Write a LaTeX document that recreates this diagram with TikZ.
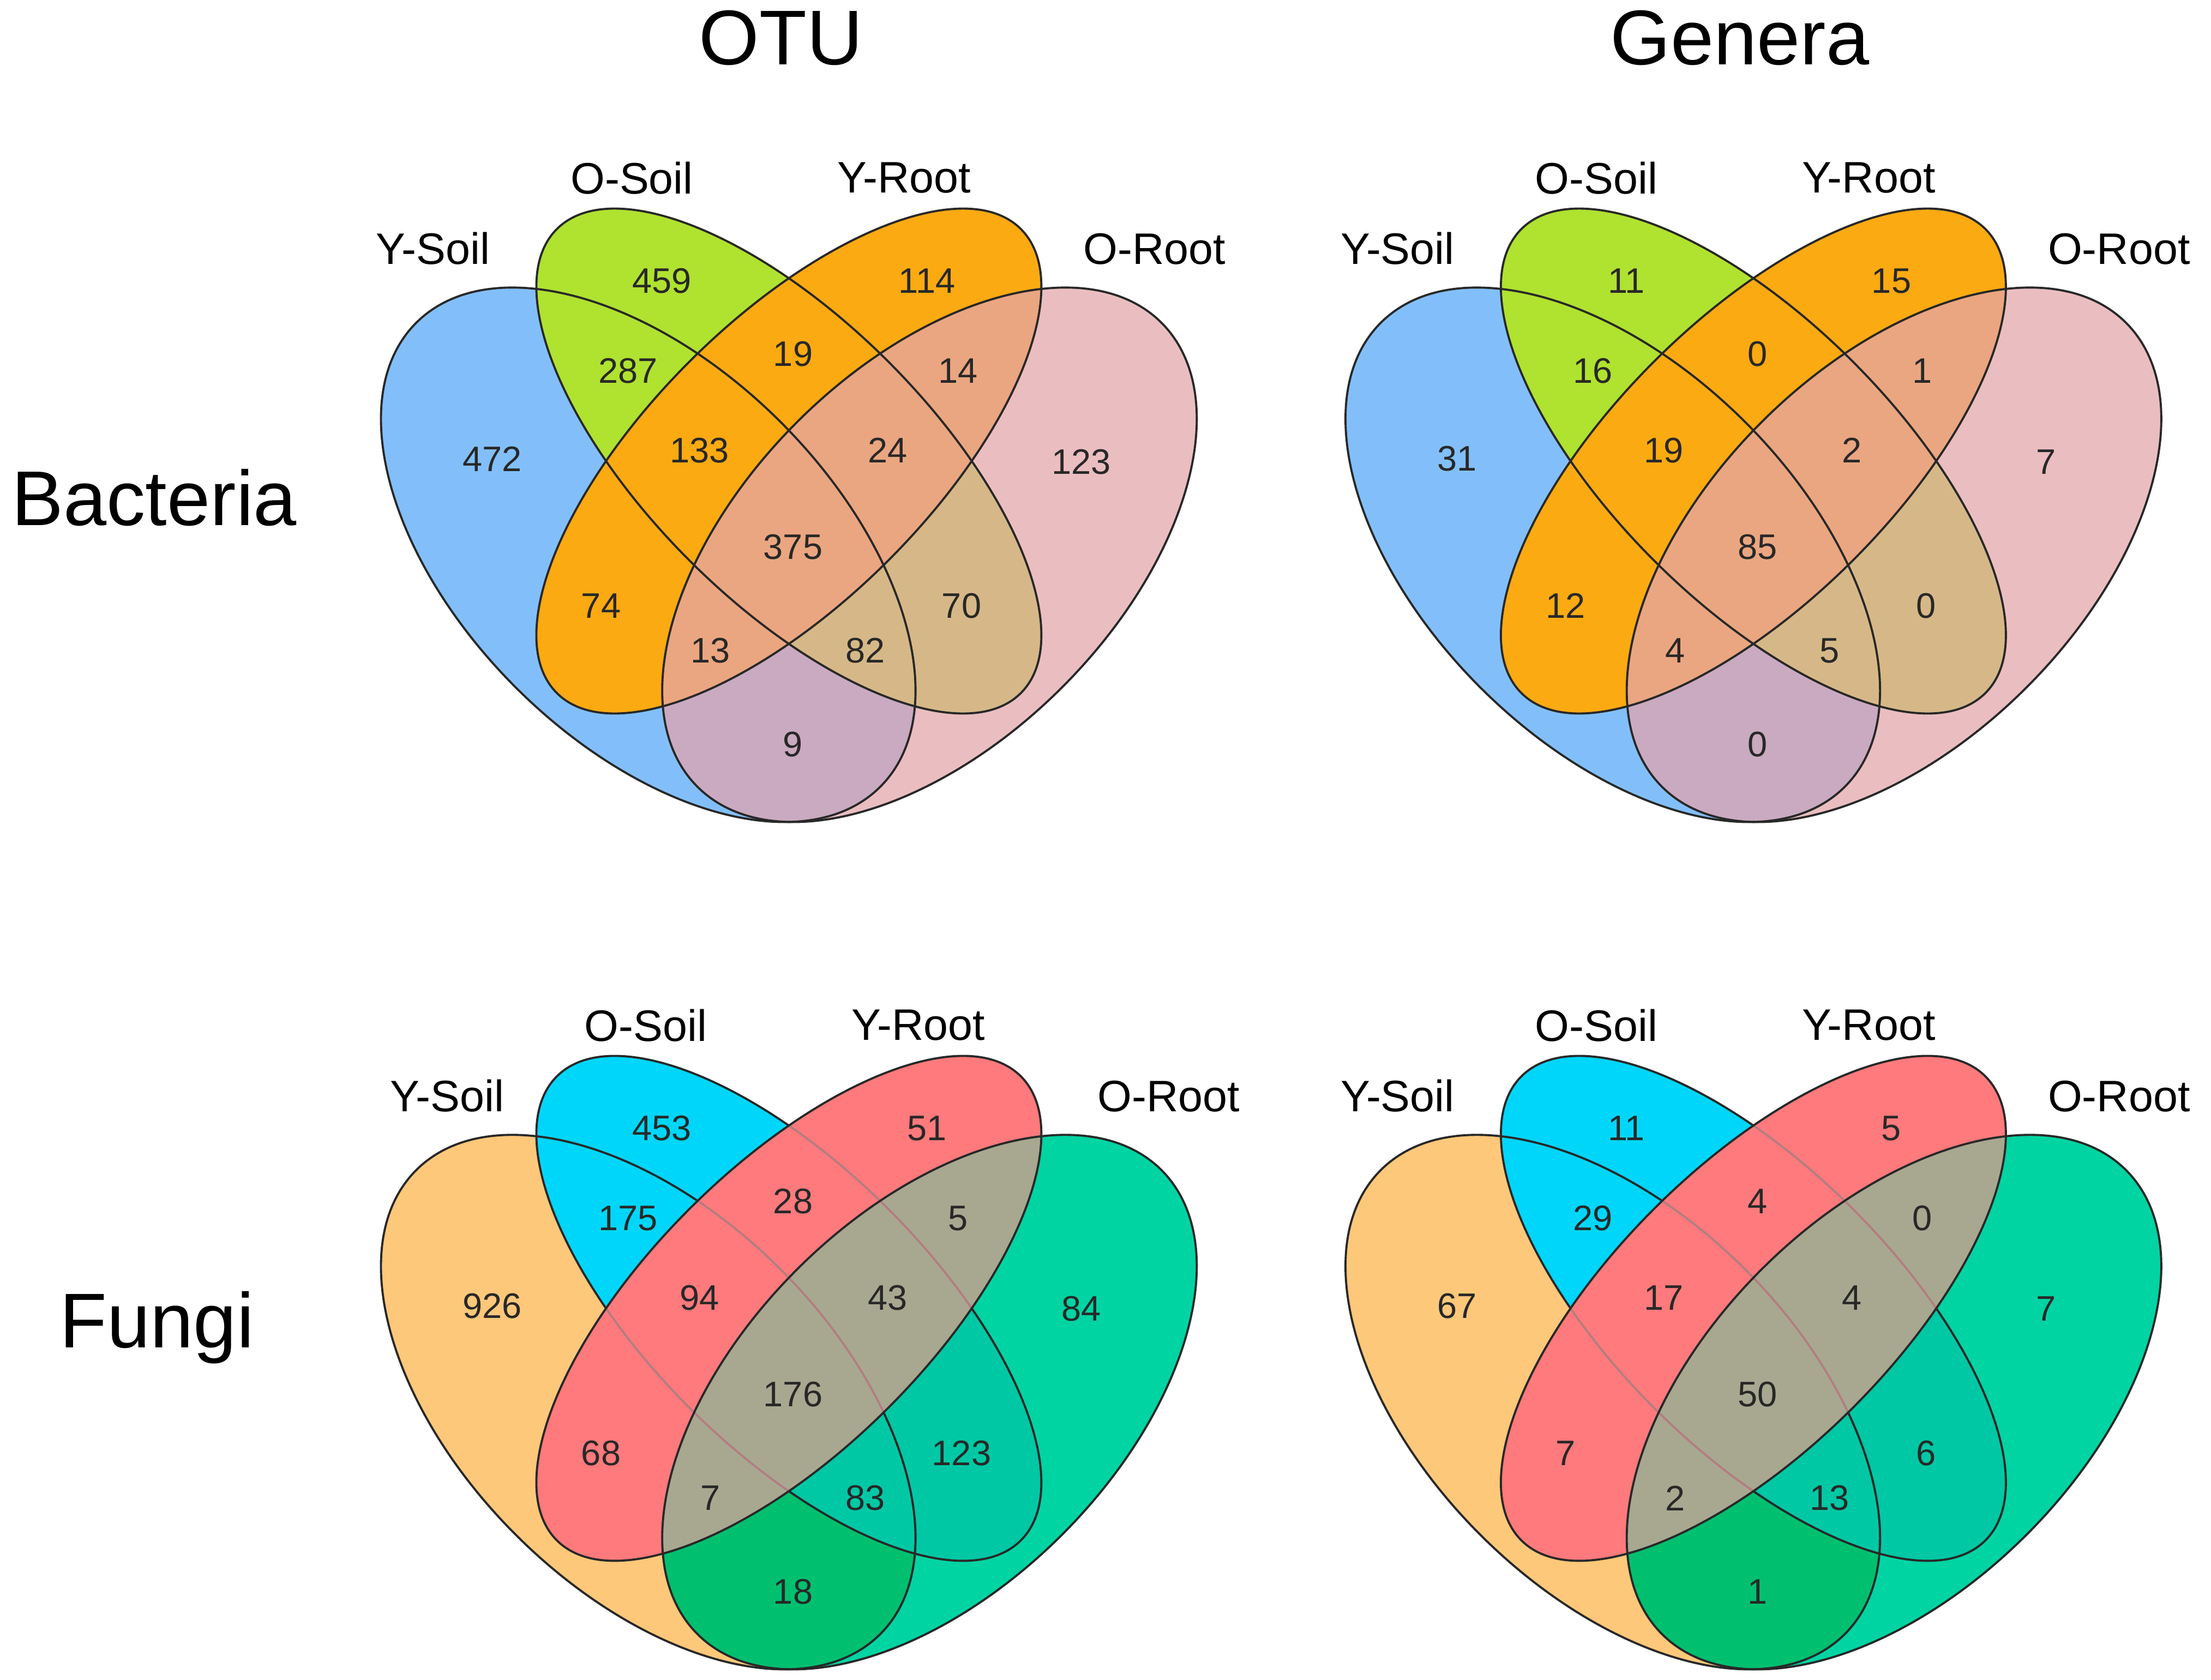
\documentclass[tikz,border=0pt]{standalone}
\usepackage{fontspec}
\setmainfont{Liberation Sans}
\usetikzlibrary{positioning}

% Bacteria palette
\definecolor{bacysoil}{RGB}{130,191,250}
\definecolor{bacosoil}{RGB}{176,226,48}
\definecolor{bacyroot}{RGB}{252,170,18}
\definecolor{bacoroot}{RGB}{234,190,192}
\definecolor{bacys}{RGB}{202,170,192}
\definecolor{bacos}{RGB}{214,184,136}
\definecolor{bacyr}{RGB}{234,166,128}
\definecolor{bacfaint}{RGB}{40,40,40}
% Fungi palette
\definecolor{funysoil}{RGB}{254,200,122}
\definecolor{funosoil}{RGB}{0,214,250}
\definecolor{funyroot}{RGB}{254,122,124}
\definecolor{funoroot}{RGB}{0,212,162}
\definecolor{funys}{RGB}{0,192,112}
\definecolor{funos}{RGB}{0,200,164}
\definecolor{funyr}{RGB}{168,168,145}
\definecolor{funfaint}{RGB}{180,125,128}
\definecolor{setgrey}{RGB}{40,40,40}
\definecolor{numgrey}{RGB}{40,40,40}

% the four sets, in units of one diagram
\newcommand{\ysoilset}{[rotate around={135:(0.35,0.47)}] (0.35,0.47) ellipse [x radius=0.35, y radius=0.2]}
\newcommand{\osoilset}{[rotate around={135:(0.5,0.57)}] (0.5,0.57) ellipse [x radius=0.35, y radius=0.15]}
\newcommand{\yrootset}{[rotate around={45:(0.5,0.57)}] (0.5,0.57) ellipse [x radius=0.35, y radius=0.15]}
\newcommand{\orootset}{[rotate around={45:(0.65,0.47)}] (0.65,0.47) ellipse [x radius=0.35, y radius=0.2]}

% #1 label shift, #2 name, #3 palette, #4 counts
\newcommand{\quadvenn}[4][0]{%
  \fill[#3ysoil] \ysoilset;
  \fill[#3osoil] \osoilset;
  \fill[#3oroot] \orootset;
  \begin{scope}
    \clip \orootset;
    \fill[#3ys] \ysoilset;
    \fill[#3os] \osoilset;
  \end{scope}
  \draw[setline] \ysoilset;
  \draw[setline] \osoilset;
  \fill[#3yroot] \yrootset;
  \begin{scope}
    \clip \yrootset;
    \fill[#3yr] \orootset;
    \draw[setline, #3faint] \ysoilset;
    \draw[setline, #3faint] \osoilset;
  \end{scope}
  \draw[setline] \yrootset;
  \draw[setline] \orootset;
  \foreach \x/\y [count=\i] in {0.365/0.763, 0.648/0.763, 0.329/0.667, 0.505/0.685,
      0.681/0.667, 0.184/0.573, 0.405/0.582, 0.606/0.582, 0.813/0.570, 0.505/0.479,
      0.300/0.416, 0.685/0.416, 0.417/0.368, 0.582/0.368, 0.505/0.268}
    \coordinate (#2-r\i) at (\x,\y);
  \foreach \val [count=\i] in {#4}
    \node[num] (#2-n\i) at (#2-r\i) {\val};
  \node[cat] (#2-ysoil) at (0.1205+#1,0.797) {Y-Soil};
  \node[cat] (#2-osoil) at (0.3325+#1,0.872) {O-Soil};
  \node[cat] (#2-yroot) at (0.623+#1,0.872) {Y-Root};
  \node[cat] (#2-oroot) at (0.890+#1,0.796) {O-Root};
}

\begin{document}
\begin{tikzpicture}[
    setline/.style={draw=setgrey, line width=1.1pt},
    num/.style={font=\fontsize{18.5}{20}\selectfont, text=numgrey, inner sep=0pt},
    cat/.style={font=\fontsize{23}{25}\selectfont, inner sep=0pt},
    head/.style={font=\fontsize{40.5}{44}\selectfont, inner sep=0pt}
  ]
  \useasboundingbox (0,0) rectangle (40.54,30.81);

  \node[head, anchor=base] (otu) at (14.32,29.62) {OTU};
  \node[head, anchor=base] (genera) at (31.90,29.62) {Genera};
  \node[head, anchor=base west] (bacteria) at (0.21,21.17) {Bacteria};
  \node[head, anchor=base west] (fungi) at (1.09,6.09) {Fungi};

  \begin{scope}[shift={(5.869,12.556)}, scale=17.19]
    \quadvenn{ob}{bac}{459,114,287,19,14,472,133,24,123,375,74,70,13,82,9}
  \end{scope}
  \begin{scope}[shift={(23.554,12.556)}, scale=17.19]
    \quadvenn{gb}{bac}{11,15,16,0,1,31,19,2,7,85,12,0,4,5,0}
  \end{scope}
  \begin{scope}[shift={(5.869,-2.983)}, scale=17.19]
    \quadvenn[0.015]{of}{fun}{453,51,175,28,5,926,94,43,84,176,68,123,7,83,18}
  \end{scope}
  \begin{scope}[shift={(23.554,-2.983)}, scale=17.19]
    \quadvenn{gf}{fun}{11,5,29,4,0,67,17,4,7,50,7,6,2,13,1}
  \end{scope}
\end{tikzpicture}
\end{document}
